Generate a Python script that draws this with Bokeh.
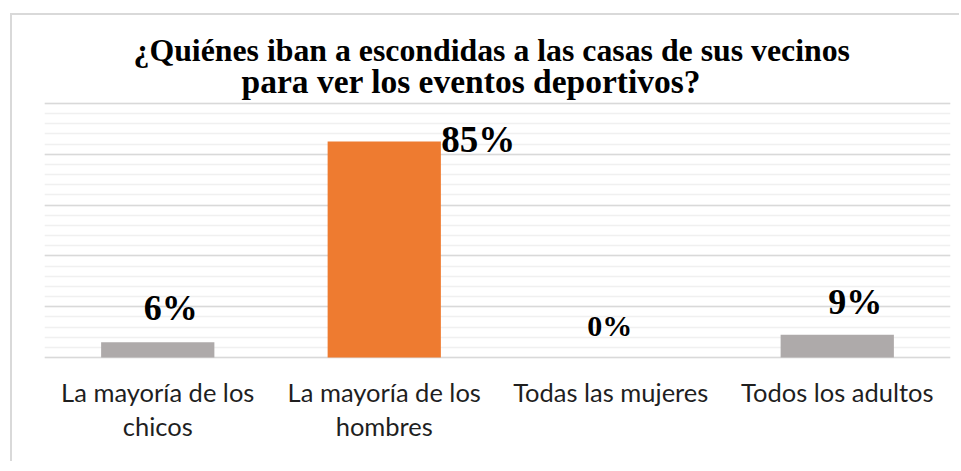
from bokeh.plotting import figure
from bokeh.models import ColumnDataSource, FactorRange, Range1d, FixedTicker
from bokeh.core.properties import value
from bokeh.embed import file_html
from bokeh.resources import INLINE

# ---- data ----
categories = ["La mayoría de los chicos", "La mayoría de los hombres",
              "Todas las mujeres", "Todos los adultos"]
tick_line1 = ["La mayoría de los", "La mayoría de los",
              "Todas las mujeres", "Todos los adultos"]
tick_line2 = ["chicos", "hombres", "", ""]
values = [0.06, 0.85, 0.00, 0.09]
value_labels = ["6%", "85%", "0%", "9%"]
title_lines = ["¿Quiénes iban a escondidas a las casas de sus vecinos",
               "para ver los eventos deportivos?"]

# ---- styles / layout ----
bar_colors = ["#AEAAAA", "#EE7B30", "#AEAAAA", "#AEAAAA"]
label_dx = [13, 94, -1, 18]
label_dy = [-34, -2, -32, -33]
label_sizes = ["36px", "37px", "30px", "36px"]
title_dx = [89, 197]
title_dy = [-53, -22]
title_sizes = ["31.8px", "33.5px"]
PX_PER_UNIT = 254.0          # pixels for 100 %
BELOW_PX = 106               # room under the baseline for category labels
ABOVE_PX = 88                # room above 100 % for the title

src = ColumnDataSource(dict(cat=categories, val=values, col=bar_colors,
                            lab=value_labels, dx=label_dx, dy=label_dy,
                            fs=label_sizes, t1=tick_line1, t2=tick_line2,
                            zero=[0.0] * len(categories)))
title_src = ColumnDataSource(dict(x=[0, 0], y=[1.0, 1.0], text=title_lines,
                                  dx=title_dx, dy=title_dy, fs=title_sizes))

p = figure(width=949, height=448, output_backend="svg", toolbar_location=None,
           x_range=FactorRange(*categories, range_padding=0),
           y_range=Range1d(-BELOW_PX / PX_PER_UNIT, 1.0 + ABOVE_PX / PX_PER_UNIT),
           min_border_left=32, min_border_right=11, min_border_bottom=0,
           min_border_top=0)
p.styles = {"border-left": "2px solid #D9D9D9", "border-top": "2px solid #D9D9D9",
            "margin-left": "10px", "margin-top": "13px"}

p.outline_line_color = None
p.background_fill_color = "white"
p.border_fill_color = "white"

p.vbar(x="cat", top="val", width=0.5, source=src, fill_color="col",
       line_color=None)

p.text(x="cat", y="val", text="lab", source=src, x_offset="dx", y_offset="dy",
       text_font=value("Liberation Serif"), text_font_style="bold",
       text_font_size="fs", text_align="center", text_baseline="alphabetic",
       text_color="black")

# category labels (two lines)
tick_style = dict(text_font=value("Lato"), text_font_size="25.5px",
                  text_align="center", text_baseline="alphabetic",
                  text_color="#1F1F1F", source=src)
p.text(x="cat", y="zero", text="t1", y_offset=34, **tick_style)
p.text(x="cat", y="zero", text="t2", y_offset=68, **tick_style)

# title
p.text(x="x", y="y", text="text", source=title_src, x_offset="dx", y_offset="dy",
       text_font=value("Liberation Serif"), text_font_style="bold",
       text_font_size="fs", text_align="left", text_baseline="alphabetic",
       text_color="black")

# grid
p.yaxis.visible = False
p.xaxis.visible = False
p.yaxis.ticker = FixedTicker(ticks=[0, 0.2, 0.4, 0.6, 0.8, 1.0],
                             minor_ticks=[i * 0.04 for i in range(26)])
p.ygrid.grid_line_color = "#D9D9D9"
p.ygrid.grid_line_width = 1.5
p.ygrid.minor_grid_line_color = "#F0F0F0"
p.ygrid.minor_grid_line_width = 1.5
p.xgrid.grid_line_color = None

open("out.html", "w").write(file_html(p, INLINE))
